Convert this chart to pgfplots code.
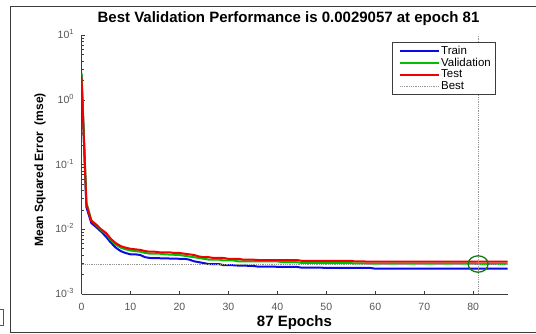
\documentclass[border=0pt]{standalone}
\usepackage{pgfplots}
\pgfplotsset{compat=1.18}
\usepackage{fontspec}
\setmainfont{Liberation Sans}
\definecolor{axgray}{RGB}{60,60,60}
\definecolor{tickgray}{RGB}{85,85,85}
\definecolor{mblue}{RGB}{10,10,230}
\definecolor{mgreen}{RGB}{0,190,0}
\definecolor{mred}{RGB}{240,0,0}
\definecolor{bestgray}{RGB}{150,150,150}
\definecolor{circgreen}{RGB}{20,120,20}
\begin{document}
\begin{tikzpicture}
\begin{axis}[
  at={(81.5pt,39pt)}, anchor=south west,
  scale only axis, width=426pt, height=259pt,
  xmin=0, xmax=87, ymin=1e-3, ymax=10, ymode=log,
  axis x line*=bottom, axis y line*=left,
  axis line style={axgray, line width=0.9pt},
  tick align=inside,
  major tick length=3.5pt, minor tick length=2pt,
  every tick/.style={axgray, line width=0.5pt},
  xtick={0,10,...,80},
  ytick={1e-3,1e-2,1e-1,1,10},
  yticklabels={10\textsuperscript{-3},10\textsuperscript{-2},10\textsuperscript{-1},10\textsuperscript{0},10\textsuperscript{1}},
  /pgf/number format/assume math mode=true,
  tick label style={font=\fontsize{10.5}{12}\selectfont, text=tickgray},
  xticklabel style={anchor=base, yshift=-16pt},
  yticklabel style={anchor=base east, xshift=-4pt, yshift=-3.5pt},
  title={Best Validation Performance is 0.0029057 at epoch 81},
  title style={at={(axis description cs:0.486,1)}, anchor=base, yshift=7pt, font=\bfseries\fontsize{15}{18}\selectfont},
  xlabel={87 Epochs},
  xlabel style={at={(axis description cs:0.5,0)}, anchor=base, yshift=-32pt, font=\bfseries\fontsize{15}{18}\selectfont},
  ylabel={Mean Squared Error\ \ (mse)},
  ylabel style={at={(axis description cs:0,0.48)}, anchor=center, yshift=41.5pt, font=\bfseries\fontsize{12}{14}\selectfont},
  legend style={at={(axis description cs:0.9707,0.973)}, anchor=north east,
    draw=axgray, fill=white, inner xsep=3pt, inner ysep=3pt,
    row sep=0pt,
    nodes={inner sep=1pt, font=\fontsize{11.5}{12}\selectfont}},
  legend cell align=left,
  legend image code/.code={\path (-4pt,0pt); \draw[#1] (0pt,0pt) -- (39pt,0pt);},
]
\addplot[mblue, line width=2pt] coordinates {
(0,2.4)(1,0.022)(2,0.0125)(3,0.0108)(4,0.0092)(5,0.0077)(6,0.0062)(7,0.0052)(8,0.0046)(9,0.0043)(10,0.0041)(11,0.0041)(12,0.0040)(13,0.0037)(14,0.0036)(20,0.0035)(21,0.0035)(22,0.0034)(23,0.0032)(24,0.0031)(25,0.0030)(26,0.0029)(28,0.0029)(29,0.0028)(31,0.00278)(32,0.00275)(35,0.00272)(36,0.00265)(44,0.00262)(45,0.00255)(59,0.00253)(60,0.00246)(87,0.00246)
};
\addlegendentry{Train}
\addplot[mgreen, line width=2pt] coordinates {
(0,2.6)(1,0.026)(2,0.0138)(3,0.0116)(4,0.0097)(5,0.0085)(6,0.0068)(7,0.0058)(8,0.0052)(9,0.0049)(10,0.0047)(11,0.0046)(12,0.0045)(13,0.0043)(14,0.0042)(16,0.0042)(17,0.0041)(20,0.0040)(21,0.0039)(22,0.0038)(23,0.0037)(24,0.0036)(25,0.0035)(26,0.0034)(28,0.0034)(29,0.0033)(31,0.0033)(32,0.0032)(40,0.0032)(41,0.0031)(44,0.0031)(45,0.00302)(55,0.00300)(56,0.00296)(80,0.00295)(81,0.0029057)(87,0.00291)
};
\addlegendentry{Validation}
\addplot[mred, line width=2pt] coordinates {
(0,2.2)(1,0.024)(2,0.0135)(3,0.0118)(4,0.0100)(5,0.0088)(6,0.0071)(7,0.0061)(8,0.0055)(9,0.0052)(10,0.0050)(11,0.0049)(12,0.0048)(13,0.0046)(14,0.0045)(15,0.0045)(16,0.0044)(18,0.0044)(19,0.0043)(20,0.0043)(21,0.0042)(22,0.0041)(23,0.0040)(24,0.0038)(25,0.0037)(26,0.0037)(27,0.0036)(29,0.0036)(30,0.0035)(32,0.0035)(33,0.0034)(35,0.0034)(36,0.00335)(44,0.00335)(45,0.00325)(55,0.00325)(56,0.00318)(70,0.00316)(87,0.00315)
};
\addlegendentry{Test}
\addplot[bestgray, densely dotted, line width=0.8pt] coordinates {(81,1e-3)(81,10)};
\addlegendentry{Best}
\addplot[bestgray, densely dotted, line width=0.8pt, forget plot] coordinates {(0,0.0029057)(87,0.0029057)};
\addplot[only marks, mark=o, mark size=10pt, circgreen, mark options={yscale=0.82, line width=1.3pt}, forget plot] coordinates {(81,0.0029057)};
\end{axis}
\draw[axgray, line width=1pt] (536pt,326pt) -- (10pt,326pt) -- (10pt,1pt) -- (536pt,1pt);
\draw[tickgray, line width=0.4pt] (0pt,24pt) -- (3pt,24pt) -- (3pt,8pt) -- (0pt,8pt);
\pgfresetboundingbox
\path[use as bounding box] (0,0) rectangle (536pt,333pt);
\end{tikzpicture}
\end{document}
